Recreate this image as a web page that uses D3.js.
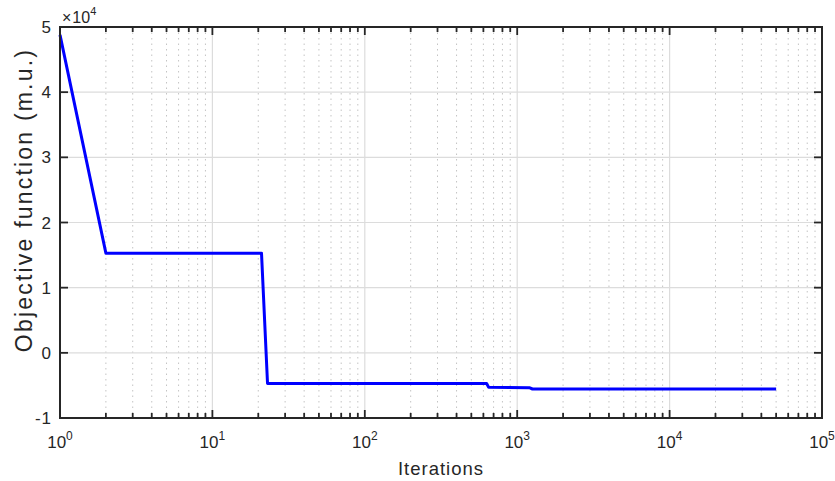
<!DOCTYPE html>
<html>
<head>
<meta charset="utf-8">
<script src="https://cdn.jsdelivr.net/npm/d3@7"></script>
<style>
body{margin:0;background:#fff;}
svg{font-family:"Liberation Sans",Arial,sans-serif;}
</style>
</head>
<body>
<svg id="chart" width="835" height="481"></svg>
<script>
// iterations vs objective value (m.u.)
const iters  = [1, 2, 21, 23, 630, 650, 1200, 1260, 50000];
const objVal = [48800, 15300, 15300, -4700, -4700, -5300, -5350, -5550, -5550];
const yTicks = [-1, 0, 1, 2, 3, 4, 5];
const xDecades = [0, 1, 2, 3, 4, 5];

const m = {left:60, right:13, top:27, bottom:63};
const W = 835, H = 481;
const svg = d3.select("#chart");
const iw = W - m.left - m.right, ih = H - m.top - m.bottom;
const g = svg.append("g").attr("transform", "translate(" + m.left + "," + m.top + ")");

const x = d3.scaleLog().domain([1, 1e5]).range([0, iw]);
const y = d3.scaleLinear().domain([-1, 5]).range([ih, 0]);

let minor = [];
for (let e = 0; e < 5; e++) for (let k = 2; k <= 9; k++) minor.push(k * Math.pow(10, e));
const major = xDecades.map(e => Math.pow(10, e));

// grid
g.selectAll(".mg").data(minor).enter().append("line")
  .attr("x1", d => x(d)).attr("x2", d => x(d)).attr("y1", 0).attr("y2", ih)
  .attr("stroke", "#c4c4c4").attr("stroke-width", 1).attr("stroke-dasharray", "1.5,4");
g.selectAll(".xg").data(major).enter().append("line")
  .attr("x1", d => x(d)).attr("x2", d => x(d)).attr("y1", 0).attr("y2", ih)
  .attr("stroke", "#dcdcdc").attr("stroke-width", 1.2);
g.selectAll(".yg").data(yTicks).enter().append("line")
  .attr("x1", 0).attr("x2", iw).attr("y1", d => y(d)).attr("y2", d => y(d))
  .attr("stroke", "#dcdcdc").attr("stroke-width", 1.2);

// line
const line = d3.line().x((d, i) => x(iters[i])).y(d => y(d / 1e4));
g.append("path").datum(objVal)
  .attr("d", line).attr("fill", "none")
  .attr("stroke", "#0000ff").attr("stroke-width", 3).attr("stroke-linejoin", "round");

// box + ticks
const axCol = "#262626";
g.append("rect").attr("width", iw).attr("height", ih)
  .attr("fill", "none").attr("stroke", axCol).attr("stroke-width", 2);

function ticks(list, len) {
  list.forEach(v => {
    const px = x(v);
    g.append("line").attr("x1", px).attr("x2", px).attr("y1", ih).attr("y2", ih - len)
      .attr("stroke", axCol).attr("stroke-width", 1.8);
    g.append("line").attr("x1", px).attr("x2", px).attr("y1", 0).attr("y2", len)
      .attr("stroke", axCol).attr("stroke-width", 1.8);
  });
}
ticks(minor, 5);
ticks(major, 8);
yTicks.forEach(v => {
  g.append("line").attr("x1", 0).attr("x2", 8).attr("y1", y(v)).attr("y2", y(v))
    .attr("stroke", axCol).attr("stroke-width", 1.8);
  g.append("line").attr("x1", iw).attr("x2", iw - 8).attr("y1", y(v)).attr("y2", y(v))
    .attr("stroke", axCol).attr("stroke-width", 1.8);
});

// y labels
g.selectAll(".yl").data(yTicks).enter().append("text")
  .attr("x", -8).attr("y", d => y(d)).attr("dy", "0.36em")
  .attr("text-anchor", "end").attr("font-size", 17).attr("letter-spacing", 1).attr("fill", axCol)
  .text(d => d < 0 ? "-" + Math.abs(d) : d);

// x labels
xDecades.forEach(e => {
  const t = g.append("text").attr("x", x(Math.pow(10, e))).attr("y", ih + 30)
    .attr("text-anchor", "middle").attr("font-size", 17).attr("fill", axCol);
  t.append("tspan").text("10");
  t.append("tspan").attr("dy", -8).attr("font-size", 12).text(e);
});

// exponent
const ex = g.append("text").attr("x", 2).attr("y", -4)
  .attr("font-size", 16).attr("fill", axCol);
ex.append("tspan").text("\u00d7");
ex.append("tspan").attr("dx", 1).text("10");
ex.append("tspan").attr("dy", -8).attr("font-size", 11).text("4");

// axis titles
svg.append("text").attr("x", m.left + iw / 2).attr("y", 475)
  .attr("text-anchor", "middle").attr("font-size", 18.5).attr("letter-spacing", 1)
  .attr("fill", axCol).text("Iterations");
svg.append("text")
  .attr("transform", "translate(32,200) rotate(-90)")
  .attr("text-anchor", "middle").attr("font-size", 23).attr("letter-spacing", 2.2)
  .attr("fill", axCol).text("Objective function (m.u.)");
</script>
</body>
</html>
